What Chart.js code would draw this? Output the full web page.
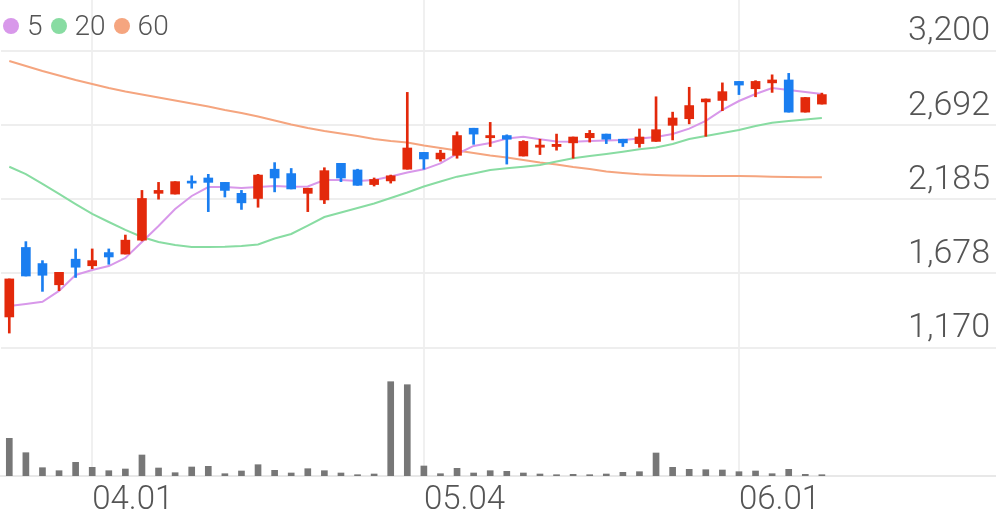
<!DOCTYPE html>
<html>
<head>
<meta charset="utf-8">
<script src="https://cdn.jsdelivr.net/npm/chart.js@4.4.1/dist/chart.umd.min.js"></script>
<style>
  html, body { margin: 0; padding: 0; background: #fff; }
  #wrap { position: relative; width: 996px; height: 519px; }
  #legend { position: absolute; left: 3px; top: 10px; display: flex; align-items: center;
            font: 300 28px Roboto, sans-serif; color: #555; line-height: 32px; z-index: 2; }
  #legend .item { display: flex; align-items: center; margin-right: 8px; }
  #legend .dot { display: inline-block; width: 16px; height: 16px; border-radius: 50%; margin-right: 8px; }
</style>
</head>
<body>
<div id="wrap">
  <div id="legend"></div>
  <canvas id="chart"></canvas>
</div>
<script>
// trading days (last 10 slots are empty space on the right)
const dates = ['03.25','03.26','03.27','03.30','03.31',
  '04.01','04.02','04.03','04.06','04.07','04.08','04.09','04.10','04.13','04.14','04.16','04.17','04.20','04.21','04.22','04.23','04.24','04.27','04.28','04.29',
  '05.04','05.06','05.07','05.08','05.11','05.12','05.13','05.14','05.15','05.18','05.19','05.20','05.21','05.22','05.25','05.26','05.27','05.28','05.29',
  '06.01','06.02','06.03','06.04','06.05','06.08',
  '06.09','06.10','06.11','06.12','06.15','06.16','06.17','06.18','06.19','06.22'];
const tickDates = ['04.01', '05.04', '06.01'];
const priceTicks = [1170, 1678, 2185, 2692, 3200];

const opens = [1380,1855,1745,1600,1775,1730,1820,1810,1905,2225, 2220,2305,2330,2300,2225,2190,2390,2360,2225,2180,
  2430,2385,2285,2310,2390,2505,2460,2485,2670,2605, 2620,2480,2540,2545,2570,2605,2630,2595,2565,2580,
  2690,2735,2850,2860,2990,2940,2980,3000,2780,2835];
const highs = [1640,1895,1765,1685,1845,1845,1845,1940,2245,2300, 2305,2345,2355,2300,2245,2355,2435,2395,2260,2400,
  2430,2390,2330,2350,2915,2505,2520,2645,2670,2710, 2625,2585,2595,2630,2610,2655,2630,2595,2665,2885,
  2780,2950,2870,2980,2990,2995,3035,3045,2880,2910];
const lows = [1270,1660,1555,1560,1650,1710,1740,1810,1900,2185, 2220,2260,2100,2200,2115,2130,2235,2255,2100,2155,
  2305,2280,2275,2295,2390,2390,2445,2465,2560,2545, 2425,2480,2490,2520,2465,2575,2565,2545,2540,2580,
  2590,2700,2615,2790,2900,2885,2915,2780,2780,2835];
const closes = [1640,1660,1665,1685,1720,1765,1790,1905,2190,2245, 2305,2295,2300,2245,2160,2350,2330,2255,2260,2380,
  2330,2280,2320,2345,2535,2460,2500,2620,2630,2620, 2595,2580,2555,2560,2610,2635,2595,2570,2610,2660,
  2740,2825,2870,2920,2965,2990,3000,2780,2880,2900];

const ma5 = [1455,1469,1484,1558,1667,1701,1728,1783,1892,2002, 2118,2207,2268,2268,2262,2268,2275,2270,2272,2316,
  2316,2309,2316,2340,2368,2389,2430,2494,2549,2569, 2600,2612,2594,2579,2578,2583,2586,2590,2600,2610,
  2631,2667,2720,2795,2856,2904,2945,2931,2918,2904];
const ma20 = [2407,2357,2289,2221,2152,2084,2029,1975,1927,1892, 1872,1858,1858,1860,1865,1875,1916,1947,2005,2063,
  2094,2125,2156,2193,2231,2272,2306,2339,2361,2385, 2396,2407,2419,2443,2465,2480,2494,2510,2526,2538,
  2562,2596,2617,2638,2658,2685,2708,2720,2730,2740];
const ma60 = [3130,3095,3061,3031,3000,2972,2945,2921,2901,2880, 2860,2839,2819,2795,2774,2750,2723,2696,2672,2651,
  2634,2617,2596,2583,2573,2552,2535,2518,2501,2484, 2470,2453,2436,2422,2405,2391,2374,2364,2355,2350,
  2347,2345,2344,2344,2344,2342,2339,2337,2335,2335];

// volume, thousand shares
const volumes = [377,233,83,53,137,87,53,70,210,80, 33,90,97,23,50,113,57,30,73,53,
  30,13,20,943,913,100,23,77,30,53, 47,30,20,13,17,13,20,37,43,230,
  87,67,63,60,43,50,23,67,17,13];

const RED = '#e3290b';
const BLUE = '#1a7ef0';
const maLines = [
  { label: '5', data: ma5, color: '#d898ea' },
  { label: '20', data: ma20, color: '#88dca2' },
  { label: '60', data: ma60, color: '#f5a57f' }
];

// html legend
const legendEl = document.getElementById('legend');
maLines.forEach(m => {
  const item = document.createElement('div');
  item.className = 'item';
  item.innerHTML = `<span class="dot" style="background:${m.color}"></span><span>${m.label}</span>`;
  legendEl.appendChild(item);
});

const candleColors = closes.map((c, i) => c >= opens[i] ? RED : BLUE);
const bodies = opens.map((o, i) => [o, closes[i]]);
const wicks = lows.map((l, i) => [l, highs[i]]);

const canvas = document.getElementById('chart');
canvas.width = 996;
canvas.height = 519;

new Chart(canvas.getContext('2d'), {
  type: 'bar',
  data: {
    labels: dates,
    datasets: [
      { type: 'bar', label: 'body', data: bodies, backgroundColor: candleColors, barThickness: 9,
        minBarLength: 2, grouped: false, yAxisID: 'y', order: 0 },
      { type: 'bar', label: 'wick', data: wicks, backgroundColor: candleColors, barThickness: 2,
        grouped: false, yAxisID: 'y', order: 1 },
      ...maLines.map((m, k) => ({
        type: 'line', label: m.label, data: m.data, borderColor: m.color, borderWidth: 2,
        pointRadius: 0, tension: 0, yAxisID: 'y', order: 2 + k
      })),
      { type: 'bar', label: 'volume', data: volumes, backgroundColor: '#777777', barThickness: 6,
        grouped: false, yAxisID: 'yv', order: 6 }
    ]
  },
  options: {
    responsive: false,
    animation: false,
    events: [],
    layout: { padding: { left: 1, right: 0, top: 0, bottom: 0 } },
    plugins: { legend: { display: false }, tooltip: { enabled: false } },
    scales: {
      x: {
        offset: true,
        grid: {
          offset: false,
          drawTicks: false,
          lineWidth: 2,
          color: ctx => tickDates.includes(dates[ctx.index]) ? '#f0f0f0' : 'rgba(0,0,0,0)'
        },
        border: { display: true, color: '#e8e8e8', width: 2 },
        ticks: {
          autoSkip: false, maxRotation: 0, align: 'start', padding: 5,
          color: '#555', font: { family: 'Roboto', size: 33, weight: '300' },
          callback: function (v, i) { return tickDates.includes(dates[i]) ? dates[i] : ''; }
        },
        afterFit: s => { s.height = 43; s.paddingLeft = 0; s.paddingRight = 0; }
      },
      y: {
        position: 'right',
        min: 293,
        max: 3546.5,
        afterBuildTicks: s => { s.ticks = priceTicks.map(v => ({ value: v })); },
        afterFit: s => { s.width = 0; s.paddingTop = 0; s.paddingBottom = 0; },
        grid: { color: '#eeeeee', lineWidth: 2, drawTicks: false },
        border: { display: false },
        ticks: {
          mirror: true, padding: -6, labelOffset: -19,
          color: '#555', font: { family: 'Roboto', size: 34, weight: '300' },
          callback: v => v.toLocaleString('en-US')
        }
      },
      yv: {
        display: false,
        min: 0,
        max: 4760
      }
    }
  }
});
</script>
</body>
</html>
